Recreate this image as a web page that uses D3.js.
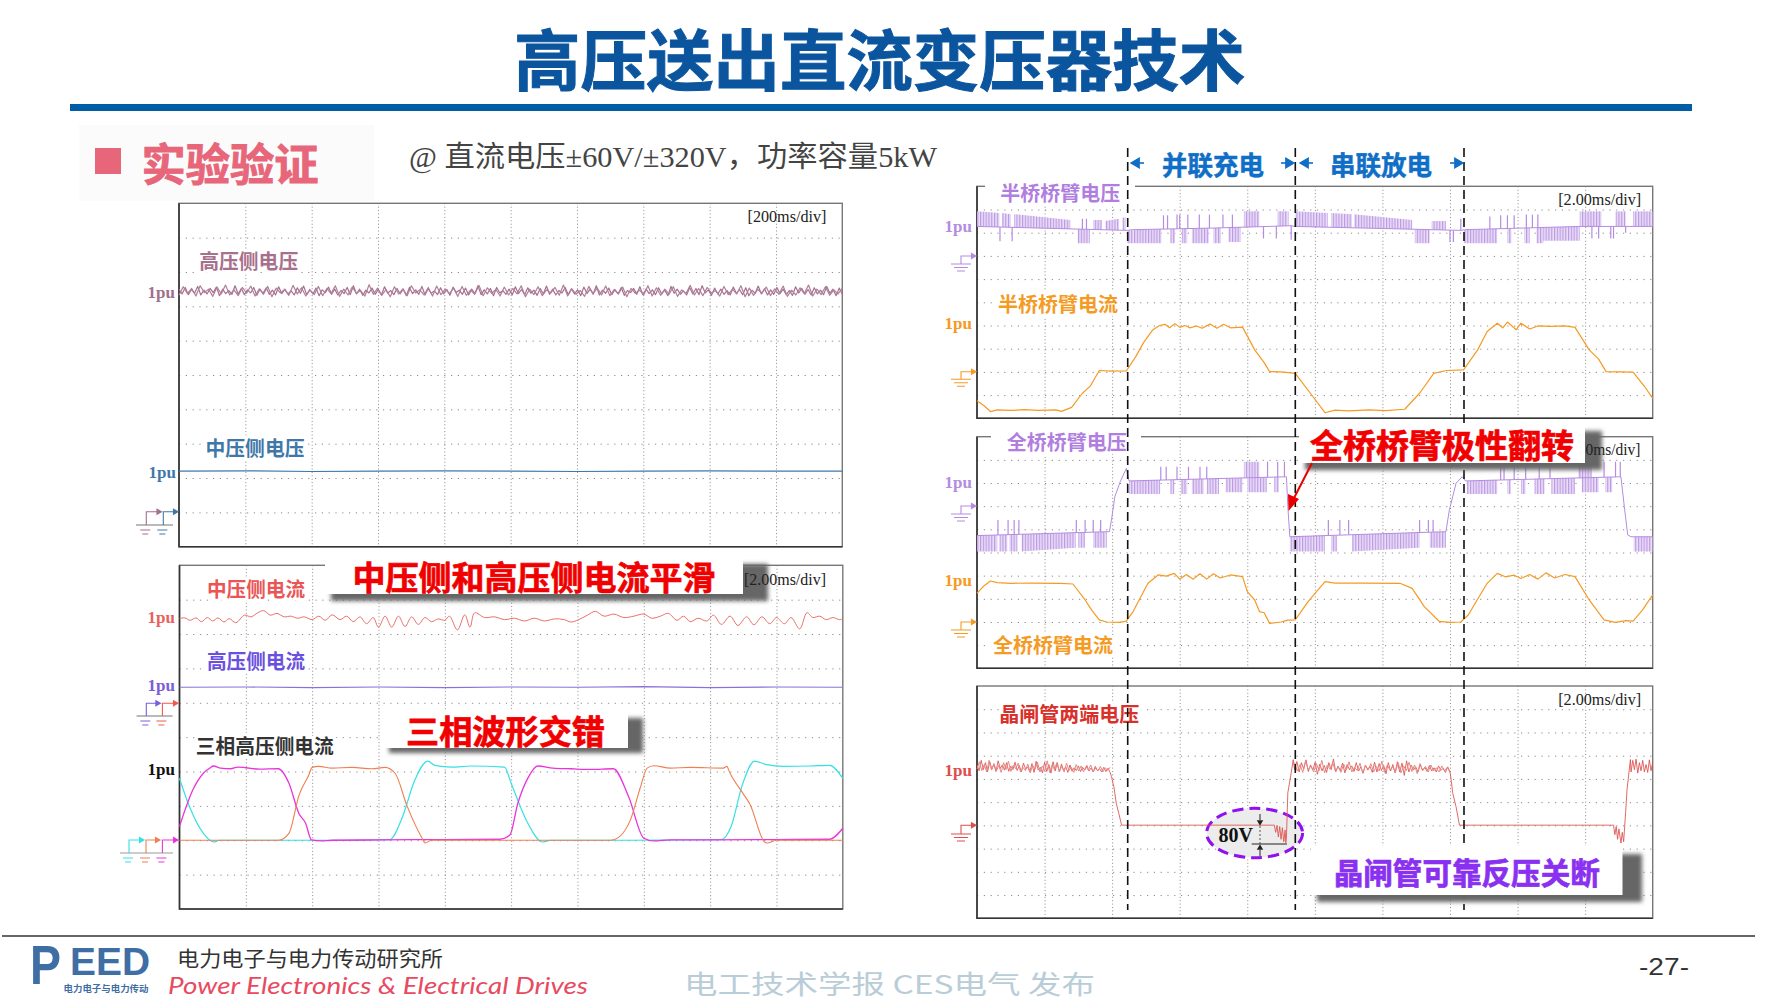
<!DOCTYPE html>
<html>
<head>
<meta charset="utf-8">
<script src="https://cdnjs.cloudflare.com/ajax/libs/d3/7.8.5/d3.min.js"></script>
<style>
  html, body { margin: 0; padding: 0; background: #fff; }
  svg { display: block; }
  .grid .domain { display: none; }
  .grid line { fill: none; }
  .trace { fill: none; stroke-linejoin: round; }
</style>
</head>
<body>
<svg id="chart" width="1778" height="1000"></svg>
<script>
// all traces are in scope divisions: x 0-10 left to right, y 0-10 bottom to top
const GRID_DIVS = [1, 2, 3, 4, 5, 6, 7, 8, 9];

const hvVoltage = [7.5,7.36,7.55,7.34,7.49,7.38,7.58,7.33,7.47,7.36,7.52,7.4,7.56,7.31,7.5,7.37,7.46,7.35,7.6,7.36,7.52,7.34,7.48,7.39,7.55,7.32,7.5,7.38,7.54,7.35,7.47,7.33,7.57,7.37,7.5,7.36,7.45,7.33,7.54,7.38,7.59,7.34,7.49,7.36,7.53,7.31,7.48,7.4,7.56,7.35,7.5,7.33,7.46,7.37,7.55,7.34,7.6,7.36,7.5,7.32,7.47,7.39,7.53,7.35,7.49,7.33,7.57,7.38,7.46,7.34,7.52,7.36,7.5,7.31,7.55,7.37,7.48,7.35,7.58,7.33,7.51,7.38,7.45,7.34,7.54,7.36,7.49,7.32,7.56,7.4,7.47,7.35,7.53,7.33,7.5,7.37,7.6,7.34,7.48,7.36,7.52,7.31,7.55,7.39,7.46,7.35,7.5,7.33,7.57,7.37,7.49,7.34,7.54,7.38,7.47,7.32,7.52,7.36,7.59,7.35,7.5,7.33,7.46,7.39,7.55,7.34,7.51,7.36,7.48,7.31,7.56,7.37,7.5,7.35,7.6,7.33,7.47,7.38,7.53,7.34,7.49,7.36,7.55,7.32,7.46,7.4,7.52,7.35,7.57,7.33,7.5,7.37,7.48,7.34,7.54,7.36,7.47,7.31,7.58,7.38,7.5,7.35,7.45,7.33,7.55,7.36,7.52,7.34,7.6,7.39,7.48,7.32,7.53,7.36,7.5,7.35,7.46,7.33,7.56,7.37,7.49,7.34,7.54,7.31,7.47,7.38,7.59,7.36,7.51,7.33,7.48,7.35,7.55,7.37,7.5,7.34,7.46,7.32,7.57,7.39,7.52,7.35,7.49,7.33,7.54,7.36,7.47,7.34,7.58,7.38,7.5,7.31,7.53,7.36];
const hvVoltagePass2 = [7.32,7.57,7.37,7.52,7.3,7.6,7.4,7.5,7.29,7.56,7.36,7.62,7.33,7.48,7.31,7.55,7.38,7.59,7.3,7.51,7.35,7.58,7.28,7.53,7.39,7.49,7.32,7.61,7.36,7.54,7.3,7.47,7.34,7.58,7.31,7.52,7.37,7.6,7.29,7.5,7.33,7.56,7.38,7.46,7.3,7.63,7.35,7.53,7.32,7.49,7.28,7.57,7.36,7.51,7.31,7.6,7.39,7.48,7.33,7.55,7.3,7.59,7.34,7.5,7.37,7.53,7.29,7.58,7.32,7.47,7.35,7.61,7.31,7.54,7.38,7.49,7.3,7.56,7.33,7.52,7.36,7.6,7.28,7.5,7.34,7.57,7.31,7.48,7.39,7.55,7.32,7.62,7.3,7.51,7.35,7.46,7.29,7.58,7.37,7.53,7.33,7.59,7.31,7.49,7.36,7.56,7.28,7.52,7.38,7.47,7.34,7.6,7.3,7.54,7.32,7.5,7.35,7.57,7.29,7.48,7.37,7.61,7.33,7.52,7.31,7.55,7.39,7.46,7.3,7.58,7.34,7.5,7.36,7.6,7.28,7.53,7.32,7.49,7.38,7.56,7.31,7.51,7.35,7.59,7.29,7.47,7.33,7.54,7.37,7.62,7.3,7.5,7.34,7.57,7.32,7.48,7.36,7.52];
const mvVoltage = [[0,2.2],[1,2.21],[2,2.19],[3,2.2],[4,2.21],[5,2.2],[6,2.19],[7,2.2],[8,2.21],[9,2.2],[10,2.2]];

const mvCurrent = [[0,8.45],[0.08,8.47],[0.16,8.4],[0.25,8.47],[0.33,8.36],[0.42,8.48],[0.5,8.38],[0.58,8.47],[0.67,8.35],[0.75,8.45],[0.85,8.33],[0.98,8.55],[1.08,8.5],[1.18,8.62],[1.27,8.68],[1.37,8.55],[1.47,8.6],[1.58,8.5],[1.68,8.52],[1.78,8.46],[1.88,8.5],[2,8.42],[2.1,8.52],[2.2,8.4],[2.3,8.56],[2.42,8.42],[2.52,8.52],[2.62,8.36],[2.72,8.5],[2.82,8.3],[2.92,8.48],[3,8.2],[3.1,8.52],[3.2,8.2],[3.3,8.52],[3.4,8.22],[3.5,8.5],[3.6,8.28],[3.7,8.48],[3.8,8.36],[3.9,8.44],[4,8.4],[4.07,8.52],[4.19,8.12],[4.3,8.56],[4.38,8.2],[4.45,8.62],[4.6,8.48],[4.75,8.5],[4.9,8.42],[5.05,8.46],[5.2,8.38],[5.35,8.46],[5.5,8.38],[5.65,8.44],[5.8,8.42],[5.9,8.35],[6.02,8.42],[6.15,8.55],[6.27,8.66],[6.4,8.52],[6.55,8.58],[6.7,8.48],[6.85,8.52],[7,8.58],[7.12,8.46],[7.25,8.52],[7.37,8.6],[7.5,8.4],[7.6,8.52],[7.7,8.36],[7.82,8.46],[7.95,8.38],[8.05,8.55],[8.17,8.28],[8.3,8.52],[8.42,8.25],[8.55,8.5],[8.66,8.27],[8.78,8.5],[8.9,8.3],[9,8.48],[9.12,8.3],[9.22,8.48],[9.35,8.15],[9.46,8.62],[9.55,8.48],[9.65,8.52],[9.75,8.42],[9.85,8.48],[9.95,8.42],[10,8.44]];
const hvCurrent = [[0,6.45],[1,6.46],[2,6.44],[3,6.46],[4,6.44],[5,6.46],[6,6.45],[7,6.47],[8,6.44],[9,6.46],[10,6.45]];

const phaseA = [[0,2.4],[0.2,3.46],[0.36,3.95],[0.46,4.1],[0.51,4.16],[0.62,4.1],[0.77,4.08],[0.88,4.13],[1,4.11],[1.2,4.07],[1.49,4.08],[1.65,3.66],[1.8,2.78],[1.9,2.5],[1.99,2.01],[2.14,1.98],[2.3,2],[3,2.01],[4,2.02],[4.83,2.03],[4.98,2.15],[5.1,3.07],[5.25,3.8],[5.4,4.16],[5.63,4.1],[5.9,4.08],[6.2,4.06],[6.54,4.08],[6.77,3.27],[7,2.06],[7.15,1.98],[7.4,2.01],[8,2.01],[9,2.02],[9.8,2.03],[10,2.35]];
const phaseB = [[0,2],[1,2],[1.49,2],[1.65,2.2],[1.8,3.3],[1.95,3.9],[2,4.12],[2.1,4.15],[2.3,4.1],[2.6,4.12],[2.9,4.08],[3.1,4.12],[3.25,3.95],[3.43,3.0],[3.66,2.05],[3.7,1.92],[3.8,2],[4.5,2],[5.5,2],[6.5,2],[6.63,2.1],[6.8,2.6],[6.95,3.55],[7.05,4.1],[7.15,4.17],[7.4,4.1],[7.7,4.12],[8.2,4.1],[8.25,4.15],[8.3,3.95],[8.5,3.35],[8.6,3.05],[8.82,1.95],[8.86,1.92],[9,2],[10,2]];
const phaseC = [[0,3.8],[0.15,2.98],[0.36,2.2],[0.52,1.95],[0.6,2],[1.5,2],[2.5,2],[3.17,2.02],[3.35,2.62],[3.55,3.76],[3.74,4.3],[3.85,4.18],[4.1,4.13],[4.4,4.16],[4.9,4.13],[5,3.66],[5.25,2.5],[5.47,1.95],[5.6,2],[6.5,2],[8.17,2.02],[8.32,2.42],[8.48,3.58],[8.67,4.3],[8.85,4.2],[9.1,4.15],[9.5,4.16],[9.8,4.18],[10,3.8]];

const halfVoltageBase = [[0,8.27],[2.22,8.1],[2.3,8.13],[3.5,8.2],[4.65,8.3],[4.71,8.27],[7.16,8.1],[7.23,8.13],[8.92,8.27],[10,8.27]];
const halfVoltageRuns = [[0,0.33,8.92,8.85],[0.37,0.5,8.85,8.8],[0.55,1.38,8.8,8.55],[1.72,1.85,8.55,8.55],[1.9,2.1,8.5,8.6],[2.15,2.2,8.65,8.65],[1.49,1.67,7.55,7.55],[2.22,2.73,7.55,7.55],[2.86,2.93,7.55,7.55],[3.03,3.11,7.55,7.55],[3.18,3.43,7.55,7.55],[3.5,3.61,7.55,7.55],[3.72,3.9,7.6,7.6],[3.95,4.18,8.92,8.92],[4.45,4.61,8.92,8.92],[4.71,5.19,8.92,8.85],[5.24,5.55,8.85,8.8],[5.58,6.44,8.8,8.55],[6.73,6.94,8.5,8.5],[6.48,6.7,7.55,7.55],[7.21,7.7,7.55,7.55],[7.85,7.91,7.55,7.55],[8.1,8.18,7.55,7.55],[8.28,8.38,7.55,7.55],[8.38,8.92,7.65,7.65],[8.92,9.24,8.92,8.92],[9.45,9.6,8.92,8.92],[9.71,10,8.92,8.92]];
const halfVoltageSpikes = [[0.34,7.63],[0.52,7.63],[1.56,8.6],[1.62,8.6],[2.76,8.75],[2.82,8.75],[2.96,8.78],[3,8.78],[3.12,8.78],[3.29,8.78],[3.44,8.78],[3.64,8.78],[3.78,8.78],[4.24,7.75],[4.43,7.75],[4.65,7.7],[7,7.6],[7.05,7.6],[7.16,8.6],[7.59,8.7],[7.75,8.75],[7.85,8.75],[7.95,8.75],[8.13,8.78],[8.22,8.78],[8.3,8.78],[9.1,7.75],[9.2,7.75],[9.38,7.75],[9.42,7.75],[9.6,8.0]];

const halfCurrent = [[0,0.76],[0.1,0.55],[0.2,0.29],[0.3,0.36],[0.5,0.34],[0.7,0.37],[0.9,0.34],[1.17,0.36],[1.25,0.3],[1.4,0.47],[1.56,1.08],[1.68,1.4],[1.81,2.06],[2,2.03],[2.21,2.04],[2.35,2.66],[2.46,3.24],[2.6,3.81],[2.7,4],[2.78,4.05],[2.85,3.9],[2.93,4.08],[3,3.92],[3.08,4],[3.15,3.9],[3.25,3.98],[3.33,3.88],[3.45,4.06],[3.55,3.88],[3.65,4.05],[3.75,3.9],[3.93,3.93],[4.11,2.95],[4.25,2.4],[4.33,2.01],[4.5,2],[4.71,1.94],[4.97,0.94],[5.15,0.24],[5.3,0.35],[5.5,0.32],[5.8,0.36],[6.05,0.33],[6.33,0.39],[6.55,1.08],[6.76,1.94],[6.95,2.06],[7.2,2.09],[7.41,2.95],[7.55,3.74],[7.7,4.1],[7.78,3.9],[7.85,4.15],[7.98,3.82],[8.05,4.1],[8.18,3.85],[8.3,3.98],[8.5,3.96],[8.7,3.98],[8.85,3.92],[9.06,2.95],[9.2,2.55],[9.31,2.01],[9.5,2],[9.71,1.99],[9.88,1.37],[10,0.86]];

const fullVoltageBase = [[0,5.73],[1.96,5.9],[1.99,6.4],[2.04,7.41],[2.12,8.06],[2.21,8.63],[2.25,8.09],[4.58,8.27],[4.6,6.98],[4.63,5.68],[6.94,5.9],[6.99,6.83],[7.09,7.99],[7.18,8.27],[7.23,8.09],[9.53,8.27],[9.58,6.98],[9.63,5.76],[9.68,5.68],[10,5.68]];
const fullVoltageRuns = [[0,0.3,5.04,5.04],[0.33,0.45,5.04,5.04],[0.48,0.6,5.04,5.04],[0.66,1.46,5.04,5.2],[1.5,1.6,5.2,5.2],[1.72,1.92,5.2,5.2],[2.25,2.71,7.53,7.53],[2.86,2.92,7.53,7.53],[3.02,3.11,7.53,7.53],[3.18,3.36,7.53,7.53],[3.4,3.58,7.53,7.53],[3.68,3.93,7.6,7.6],[4,4.29,7.6,7.6],[4.4,4.47,7.6,7.6],[3.95,4.18,8.92,8.92],[4.63,5.15,5.04,5.04],[5.24,5.33,5.04,5.04],[5.55,6.55,5.04,5.2],[6.7,6.94,5.2,5.2],[7.25,7.7,7.53,7.53],[7.85,7.9,7.53,7.53],[8.05,8.12,7.53,7.53],[8.25,8.4,7.53,7.53],[8.5,8.85,7.53,7.53],[8.95,9.2,7.6,7.6],[9.3,9.4,7.6,7.6],[8.9,9.1,8.92,8.92],[9.72,10,5.04,5.04]];
const fullVoltageSpikes = [[0.31,6.4],[0.46,6.4],[0.55,6.4],[0.62,6.4],[1.47,6.4],[1.6,6.4],[1.72,6.4],[1.83,6.4],[2.72,8.7],[2.8,8.7],[2.96,8.7],[3.13,8.7],[3.3,8.7],[3.4,8.7],[4.3,8.92],[4.45,8.92],[4.55,8.92],[5.2,6.4],[5.37,6.4],[5.5,6.4],[6.55,6.4],[6.68,6.4],[6.75,6.4],[7.75,8.7],[7.8,8.7],[7.95,8.7],[8.12,8.7],[8.32,8.7],[8.48,8.7],[9.28,8.92],[9.45,8.92],[9.52,8.92]];

const fullCurrent = [[0,3.24],[0.1,3.55],[0.2,3.77],[0.3,3.7],[0.5,3.67],[0.8,3.68],[1.24,3.67],[1.42,3.64],[1.6,2.95],[1.7,2.5],[1.81,2.09],[1.92,2],[2.1,1.98],[2.21,2.04],[2.31,2.45],[2.53,3.67],[2.68,4.03],[2.8,3.98],[2.92,4.1],[3,3.85],[3.1,4.05],[3.2,3.85],[3.3,4.08],[3.4,3.85],[3.5,4.08],[3.6,3.9],[3.75,4.03],[3.93,3.96],[4,3.31],[4.11,2.95],[4.18,2.45],[4.25,2.4],[4.33,1.94],[4.5,2],[4.6,2.08],[4.71,2.09],[4.9,2.88],[5.15,3.74],[5.3,3.68],[5.7,3.68],[6.26,3.67],[6.44,3.45],[6.62,2.66],[6.84,2.03],[7,1.98],[7.16,2],[7.27,2.3],[7.55,3.67],[7.7,4.1],[7.82,3.95],[7.95,4.02],[8.05,3.88],[8.18,4.05],[8.3,3.85],[8.42,4.12],[8.55,3.9],[8.7,4.05],[8.85,3.96],[9.06,2.95],[9.28,2.09],[9.45,1.98],[9.6,2.06],[9.71,2.04],[9.85,2.52],[10,3.17]];

const thyristorPlateauA = [6.6,6.35,6.8,6.4,6.7,6.3,6.75,6.42,6.62,6.32,6.78,6.45,6.6,6.38,6.7,6.33,6.55,6.4,6.72,6.36,6.58,6.3,6.68,6.42,6.52,6.3,6.66,6.28,6.76,6.38,6.5,6.26,6.72,6.32,6.62,6.25,6.74,6.34,6.7,6.3,6.64,6.36,6.52,6.28,6.6,6.33,6.48,6.36,6.56,6.32,6.5,6.38,6.58,6.34,6.47,6.3,6.54,6.36,6.44,6.3,6.5,6.32,6.46,6.28];
const thyristorPlateauA2 = [6.42,6.74,6.36,6.62,6.3,6.8,6.38,6.66,6.34,6.58,6.28,6.7,6.4,6.76,6.32,6.6,6.44,6.68,6.3,6.5,6.36,6.64,6.26,6.58,6.42,6.72,6.3,6.56,6.34,6.78,6.28,6.6,6.4,6.7,6.32,6.54,6.3,6.68,6.36,6.5,6.28,6.62,6.34,6.56,6.3,6.52,6.38,6.6,6.3,6.46,6.34,6.54,6.3,6.48,6.36,6.5];
const thyristorFallA = [[1.99,6.1],[2.03,5.6],[2.06,4.96],[2.1,4.5],[2.14,4.01],[3,4.01],[4.4,4.01],[4.42,3.7],[4.44,4],[4.46,3.5],[4.48,3.95],[4.5,3.4],[4.52,3.9],[4.54,3.3],[4.56,3.8],[4.57,3.25],[4.58,3.5],[4.6,5.4],[4.65,6.26],[4.68,6.83]];
const thyristorPlateauB = [6.4,6.75,6.3,6.7,6.42,6.82,6.32,6.6,6.38,6.72,6.2,6.64,6.35,6.58,6.28,6.7,6.4,6.86,6.3,6.55,6.36,6.68,6.26,6.62,6.4,6.56,6.32,6.7,6.34,6.52,6.25,6.6,6.38,6.54,6.28,6.72,6.3,6.66,6.36,6.58,6.22,6.7,6.34,6.62,6.26,6.74,6.3,6.68,6.15,6.78,6.3,6.6,6.38,6.52,6.3,6.62,6.36,6.5,6.32,6.58,6.34,6.48,6.3,6.56,6.36,6.46,6.28,6.52,6.3];
const thyristorPlateauB2 = [6.7,6.34,6.62,6.28,6.78,6.4,6.55,6.3,6.66,6.36,6.8,6.26,6.6,6.42,6.7,6.32,6.52,6.28,6.64,6.38,6.74,6.3,6.5,6.36,6.68,6.24,6.58,6.4,6.66,6.3,6.54,6.34,6.76,6.28,6.6,6.38,6.5,6.3,6.7,6.26,6.56,6.36,6.72,6.32,6.6,6.22,6.66,6.36,6.54,6.3,6.6,6.34,6.48,6.3,6.56,6.34,6.5,6.28];
const thyristorFallB = [[7.02,5.9],[7.04,5.4],[7.09,4.8],[7.14,4.01],[8,4.01],[9.42,4.01],[9.44,3.6],[9.46,3.95],[9.48,3.4],[9.5,3.85],[9.53,3.24],[9.55,3.7],[9.57,3.3],[9.6,4.6],[9.62,5.54],[9.67,6.83]];
const thyristorPlateauC = [6.3,6.8,6.4,6.85,6.25,6.7,6.35,6.8,6.3,6.62,6.28,6.82,6.35,6.72];

const svg = d3.select('#chart');
const FONT_CJK = '"Noto Sans CJK SC", "Noto Sans", sans-serif';
const FONT_SERIF = '"Liberation Serif", "Noto Sans CJK SC", serif';

const defs = svg.append('defs');
defs.append('filter').attr('id', 'soft')
    .attr('x', '-10%').attr('y', '-20%').attr('width', '120%').attr('height', '140%')
  .append('feGaussianBlur').attr('stdDeviation', 2);

const hatch = defs.append('pattern').attr('id', 'comb')
    .attr('patternUnits', 'userSpaceOnUse')
    .attr('width', 2.8).attr('height', 10);
hatch.append('rect').attr('width', 2.8).attr('height', 10).attr('fill', '#eadff7');
hatch.append('rect').attr('width', 1.2).attr('height', 10).attr('fill', '#bd9ae4');

function label(parent, x, y, str, opts = {}) {
  const t = parent.append('text')
    .attr('x', x)
    .attr('y', y)
    .attr('dominant-baseline', 'central')
    .attr('text-anchor', opts.anchor || 'middle')
    .attr('font-family', opts.family || FONT_CJK)
    .attr('font-size', opts.size || 20)
    .attr('font-weight', opts.weight || 'normal')
    .attr('fill', opts.color || '#333')
    .text(str);
  if (opts.style) t.attr('font-style', opts.style);
  if (opts.length) {
    t.attr('textLength', opts.length).attr('lengthAdjust', 'spacingAndGlyphs');
  }
  if (opts.halo) {
    t.attr('paint-order', 'stroke').attr('stroke', '#fff').attr('stroke-width', 6);
  }
  if (opts.heavy) {
    t.attr('stroke', opts.color).attr('stroke-width', opts.heavy);
  }
  return t;
}

function drawPanel(box) {
  const x = d3.scaleLinear().domain([0, 10]).range([box.left, box.right]);
  const y = d3.scaleLinear().domain([0, 10]).range([box.bottom, box.top]);
  const g = svg.append('g');

  g.append('g')
      .attr('class', 'grid')
      .attr('transform', `translate(0, ${box.top})`)
      .call(d3.axisBottom(x).tickValues(GRID_DIVS).tickSize(box.bottom - box.top).tickFormat(''))
    .selectAll('line')
      .attr('stroke', '#8a8a8a')
      .attr('stroke-width', 1)
      .attr('stroke-dasharray', '1 2.4');

  g.append('g')
      .attr('class', 'grid')
      .attr('transform', `translate(${box.left}, 0)`)
      .call(d3.axisRight(y).tickValues(GRID_DIVS).tickSize(box.right - box.left).tickFormat(''))
    .selectAll('line')
      .attr('stroke', '#8a8a8a')
      .attr('stroke-width', 1)
      .attr('stroke-dasharray', '1.2 5.6');

  g.append('rect')
    .attr('x', box.left)
    .attr('y', box.top)
    .attr('width', box.right - box.left)
    .attr('height', box.bottom - box.top)
    .attr('fill', 'none')
    .attr('stroke', '#777')
    .attr('stroke-width', 1.4);
  g.append('path')
    .attr('d', `M${box.left},${box.top}V${box.bottom}H${box.right}`)
    .attr('fill', 'none')
    .attr('stroke', '#333')
    .attr('stroke-width', 1.6);

  return {g, x, y};
}

function drawTrace(panel, points, color, width = 1.1, opacity = 1, curve = d3.curveLinear) {
  const line = d3.line()
    .x(d => panel.x(d[0]))
    .y(d => panel.y(d[1]))
    .curve(curve);
  panel.g.append('path')
    .attr('class', 'trace')
    .attr('d', line(points))
    .attr('stroke', color)
    .attr('stroke-width', width)
    .attr('stroke-opacity', opacity);
}

// y-only samples spread evenly between two x positions
function spread(values, x0, x1) {
  const index = d3.scaleLinear().domain([0, values.length - 1]).range([x0, x1]);
  return values.map((v, i) => [index(i), v]);
}

function drawSwitching(panel, base, runs, spikes, color) {
  const baseAt = d3.scaleLinear().domain(base.map(d => d[0])).range(base.map(d => d[1]));
  const area = d3.area()
    .x(d => panel.x(d[0]))
    .y0(d => panel.y(baseAt(d[0])))
    .y1(d => panel.y(d[1]));

  panel.g.selectAll(null)
    .data(runs)
    .enter().append('path')
      .attr('d', d => area([[d[0], d[2]], [d[1], d[3]]]))
      .attr('fill', 'url(#comb)');

  panel.g.selectAll(null)
    .data(spikes)
    .enter().append('line')
      .attr('x1', d => panel.x(d[0]))
      .attr('x2', d => panel.x(d[0]))
      .attr('y1', d => panel.y(baseAt(d[0])))
      .attr('y2', d => panel.y(d[1]))
      .attr('stroke', color)
      .attr('stroke-width', 1.2);

  drawTrace(panel, base, color, 1);
}

function triangle(parent, x, y, size, rotate, color) {
  parent.append('path')
    .attr('d', d3.symbol(d3.symbolTriangle, size)())
    .attr('transform', `translate(${x}, ${y}) rotate(${rotate})`)
    .attr('fill', color);
}

// probe marker of the scope: step line ending in an arrow
function probeStep(x0, x1, y, yBase, color) {
  svg.append('path')
    .attr('d', `M${x0},${yBase}V${y}H${x1 - 4}`)
    .attr('fill', 'none')
    .attr('stroke', color)
    .attr('stroke-width', 1.1);
  triangle(svg, x1 - 3, y, 22, 90, color);
  svg.append('path')
    .attr('d', `M${x0 - 6},${yBase + 5}h10M${x0 - 4},${yBase + 9}h6`)
    .attr('fill', 'none')
    .attr('stroke', color)
    .attr('stroke-width', 1);
}

function groundRule(x0, x1, y, color) {
  svg.append('line')
    .attr('x1', x0).attr('x2', x1)
    .attr('y1', y).attr('y2', y)
    .attr('stroke', color)
    .attr('stroke-width', 1.1);
}

function groundMark(x, y, yBase, color) {
  svg.append('path')
    .attr('d', `M${x},${yBase}V${y}H${x + 11}M${x - 10},${yBase}h20M${x - 7},${yBase + 3.5}h14M${x - 4},${yBase + 7}h8`)
    .attr('fill', 'none')
    .attr('stroke', color)
    .attr('stroke-width', 1.1);
  triangle(svg, x + 12, y, 22, 90, color);
}

function calloutBox(x0, x1, y0, y1, sx, sy, text, size, width, color) {
  svg.append('rect')
    .attr('x', x0 + 6).attr('y', y0 + 8)
    .attr('width', sx - x0 - 6).attr('height', sy - y0 - 8)
    .attr('fill', '#666')
    .attr('filter', 'url(#soft)');
  svg.append('rect')
    .attr('x', x0).attr('y', y0)
    .attr('width', x1 - x0).attr('height', y1 - y0)
    .attr('fill', '#fff');
  label(svg, (x0 + x1) / 2, (y0 + y1) / 2 + 0.5, text, {size, color, weight: 700, length: width, heavy: 0.7});
}

// header
label(svg, 879.6, 56, '高压送出直流变压器技术', {size: 66, weight: 700, color: '#0b559f', length: 731, heavy: 1});
svg.append('rect').attr('x', 70).attr('y', 104).attr('width', 1622).attr('height', 7).attr('fill', '#005ea6');
svg.append('rect').attr('x', 79).attr('y', 125).attr('width', 295).attr('height', 76).attr('fill', '#fbfbfb');
svg.append('rect').attr('x', 95).attr('y', 148).attr('width', 26).attr('height', 26).attr('fill', '#e8667a');
label(svg, 230, 162, '实验验证', {size: 44, weight: 700, color: '#e8667a', length: 177, heavy: 0.9});
label(svg, 409, 157, '@ 直流电压±60V/±320V，功率容量5kW', {size: 29, anchor: 'start', family: FONT_SERIF, color: '#444', length: 528});

// left column
const panelA = drawPanel({left: 179, right: 842.3, top: 203.3, bottom: 546.7});
drawTrace(panelA, spread(hvVoltage, 0, 10), '#a5708e', 1.2);
drawTrace(panelA, spread(hvVoltagePass2, 0, 10), '#b07f9a', 1.2);
drawTrace(panelA, mvVoltage, '#3f78a8', 1.2);
label(panelA.g, 248.7, 260, '高压侧电压', {size: 20, weight: 700, color: '#a8708c', length: 99, halo: true});
label(panelA.g, 255, 447, '中压侧电压', {size: 20, weight: 700, color: '#3f78a8', length: 99, halo: true});
label(panelA.g, 787, 216.7, '[200ms/div]', {family: FONT_SERIF, size: 17, color: '#222', length: 79});
label(svg, 175, 292, '1pu', {family: FONT_SERIF, size: 17, weight: 700, anchor: 'end', color: '#a0708c'});
label(svg, 176, 472, '1pu', {family: FONT_SERIF, size: 17, weight: 700, anchor: 'end', color: '#3f78a8'});
groundRule(136, 173, 525, '#777');
probeStep(146.3, 161.5, 511.7, 525, '#a0708c');
probeStep(163.3, 178, 511.7, 525, '#3f78a8');

const panelB = drawPanel({left: 179.5, right: 842.8, top: 565.3, bottom: 909});
drawTrace(panelB, mvCurrent, '#e8706a', 1, 1, d3.curveCatmullRom);
drawTrace(panelB, hvCurrent, '#8a70d8', 1.1);
drawTrace(panelB, phaseC, '#35e0e6', 1.2, 1, d3.curveMonotoneX);
drawTrace(panelB, phaseA, '#ea34da', 1.3, 1, d3.curveMonotoneX);
drawTrace(panelB, phaseB, '#ef7f52', 1.1, 1, d3.curveMonotoneX);
label(panelB.g, 256, 588, '中压侧电流', {size: 20, weight: 700, color: '#ea5555', length: 98, halo: true});
label(panelB.g, 256, 660.7, '高压侧电流', {size: 20, weight: 700, color: '#6a50e0', length: 98, halo: true});
label(panelB.g, 264.8, 745.7, '三相高压侧电流', {size: 20, weight: 700, color: '#333', length: 138, halo: true});
label(svg, 175, 617, '1pu', {family: FONT_SERIF, size: 17, weight: 700, anchor: 'end', color: '#e8625e'});
label(svg, 175, 685, '1pu', {family: FONT_SERIF, size: 17, weight: 700, anchor: 'end', color: '#7a60d8'});
label(svg, 175, 769, '1pu', {family: FONT_SERIF, size: 17, weight: 700, anchor: 'end', color: '#111'});
groundRule(136.5, 172.6, 716, '#777');
probeStep(146.3, 160.4, 703.3, 716, '#7a60d8');
probeStep(162.4, 178, 703.3, 716, '#ef5a4e');
groundRule(120, 173, 853, '#999');
probeStep(129, 144, 840, 853, '#35e0e6');
probeStep(146, 160, 840, 853, '#ef7f52');
probeStep(162.4, 178, 840, 853, '#ea34da');

// right column
const RIGHT = {left: 977, right: 1652.7};
const panelC = drawPanel({...RIGHT, top: 186.3, bottom: 418.3});
drawSwitching(panelC, halfVoltageBase, halfVoltageRuns, halfVoltageSpikes, '#b48ce0');
drawTrace(panelC, halfCurrent, '#f59a23', 1.2);
panelC.g.append('rect').attr('x', 985).attr('y', 183).attr('width', 150).attr('height', 8).attr('fill', '#fff');
label(panelC.g, 1060.3, 192.7, '半桥桥臂电压', {size: 20, weight: 700, color: '#b07ee0', length: 120, halo: true});
label(panelC.g, 1058, 303.3, '半桥桥臂电流', {size: 20, weight: 700, color: '#f59a23', length: 120, halo: true});
label(panelC.g, 1599.7, 199, '[2.00ms/div]', {family: FONT_SERIF, size: 17, color: '#222', length: 83});
label(svg, 972, 226.7, '1pu', {family: FONT_SERIF, size: 17, weight: 700, anchor: 'end', color: '#b48ce0'});
label(svg, 972, 323, '1pu', {family: FONT_SERIF, size: 17, weight: 700, anchor: 'end', color: '#f59a23'});
groundMark(961, 256, 264, '#b48ce0');
groundMark(961, 371.7, 379.3, '#f59a23');

const panelD = drawPanel({...RIGHT, top: 436.7, bottom: 668.3});
drawSwitching(panelD, fullVoltageBase, fullVoltageRuns, fullVoltageSpikes, '#b48ce0');
drawTrace(panelD, fullCurrent, '#f59a23', 1.2);
panelD.g.append('rect').attr('x', 991).attr('y', 433).attr('width', 150).attr('height', 8).attr('fill', '#fff');
label(panelD.g, 1066.8, 441.7, '全桥桥臂电压', {size: 20, weight: 700, color: '#b07ee0', length: 120, halo: true});
label(panelD.g, 1053, 644, '全桥桥臂电流', {size: 20, weight: 700, color: '#f59a23', length: 120, halo: true});
label(svg, 972, 482, '1pu', {family: FONT_SERIF, size: 17, weight: 700, anchor: 'end', color: '#b48ce0'});
label(svg, 972, 580, '1pu', {family: FONT_SERIF, size: 17, weight: 700, anchor: 'end', color: '#f59a23'});
groundMark(961, 506, 514, '#b48ce0');
groundMark(961, 622, 630, '#f59a23');

const panelE = drawPanel({...RIGHT, top: 686, bottom: 918.3});
// ellipse sits under the thyristor trace
panelE.g.append('ellipse')
  .attr('cx', 1254.6).attr('cy', 833)
  .attr('rx', 48).attr('ry', 24.7)
  .attr('fill', '#ececec')
  .attr('stroke', '#9010f0')
  .attr('stroke-width', 3)
  .attr('stroke-dasharray', '11 6');
drawTrace(panelE, [
  ...spread(thyristorPlateauA, 0, 1.97),
  ...thyristorFallA,
  ...spread(thyristorPlateauB, 4.7, 7),
  ...thyristorFallB,
  ...spread(thyristorPlateauC, 9.68, 10)
], '#dc4f4c', 1, 0.85);
drawTrace(panelE, spread(thyristorPlateauA2, 0, 1.97), '#e58a86', 1);
drawTrace(panelE, spread(thyristorPlateauB2, 4.7, 7), '#e58a86', 1);
label(panelE.g, 1069.3, 713.3, '晶闸管两端电压', {size: 20, weight: 700, color: '#d8302a', length: 140, halo: true});
label(panelE.g, 1599.7, 699, '[2.00ms/div]', {family: FONT_SERIF, size: 17, color: '#222', length: 83});
label(svg, 972, 770, '1pu', {family: FONT_SERIF, size: 17, weight: 700, anchor: 'end', color: '#dc4f4c'});
groundMark(961, 825.3, 834, '#dc4f4c');

// 80V annotation
label(svg, 1235.7, 835, '80V', {family: FONT_SERIF, size: 20, weight: 700, color: '#111'});
svg.append('path')
  .attr('d', 'M1251.7,844H1287M1260,814V820M1260,856V850')
  .attr('fill', 'none')
  .attr('stroke', '#222')
  .attr('stroke-width', 1);
svg.append('line')
  .attr('x1', 1260).attr('x2', 1260)
  .attr('y1', 826).attr('y2', 844)
  .attr('stroke', '#555')
  .attr('stroke-width', 1)
  .attr('stroke-dasharray', '2 2');
triangle(svg, 1260, 822, 18, 180, '#222');
triangle(svg, 1260, 848, 18, 0, '#222');

// switching instants across the three right-hand panels
const DASH_X = [1127.7, 1295.3, 1464];
svg.selectAll(null)
  .data(DASH_X)
  .enter().append('line')
    .attr('x1', d => d)
    .attr('x2', d => d)
    .attr('y1', 148)
    .attr('y2', 910)
    .attr('stroke', '#111')
    .attr('stroke-width', 1.6)
    .attr('stroke-dasharray', '9 5');

// phase titles with arrows
label(svg, 1213, 163, '并联充电', {size: 26, weight: 700, color: '#0f6fc6', length: 102, heavy: 0.5});
label(svg, 1381, 163, '串联放电', {size: 26, weight: 700, color: '#0f6fc6', length: 102, heavy: 0.5});
[[1130, 1], [1295, -1], [1299, 1], [1464, -1]].forEach(([tip, dir]) => {
  triangle(svg, tip + dir * 6.5, 163, 60, dir > 0 ? -90 : 90, '#0f6fc6');
  svg.append('line')
    .attr('x1', tip + dir * 6).attr('x2', tip + dir * 14)
    .attr('y1', 163).attr('y2', 163)
    .attr('stroke', '#0f6fc6')
    .attr('stroke-width', 1.6);
});

// callouts
calloutBox(325, 743, 556, 594, 768, 601, '中压侧和高压侧电流平滑', 33, 363, '#f00000');
calloutBox(383, 628, 710, 748, 643, 753, '三相波形交错', 33, 199, '#f00000');
calloutBox(1299, 1585, 423, 463, 1602, 470, '全桥桥臂极性翻转', 33, 264, '#f00000');
calloutBox(1311, 1622.5, 846, 895, 1642, 902, '晶闸管可靠反压关断', 30, 266, '#8a30f0');

// time-base tags that sit on top of the callout shadows
label(svg, 785, 579, '[2.00ms/div]', {family: FONT_SERIF, size: 17, color: '#222', length: 82});
label(svg, 1585.5, 449, '0ms/div]', {family: FONT_SERIF, size: 17, anchor: 'start', color: '#222', length: 55});

svg.append('line')
  .attr('x1', 1312).attr('y1', 463)
  .attr('x2', 1293).attr('y2', 500)
  .attr('stroke', '#e80000')
  .attr('stroke-width', 2);
svg.append('path')
  .attr('d', 'M1288.5,511L1288,494L1299,499Z')
  .attr('fill', '#e80000');

// footer
svg.append('line')
  .attr('x1', 2).attr('x2', 1755)
  .attr('y1', 936).attr('y2', 936)
  .attr('stroke', '#666')
  .attr('stroke-width', 2);
label(svg, 30, 964, 'P', {family: '"Liberation Sans", sans-serif', size: 56, weight: 700, anchor: 'start', color: '#3f6ea5', length: 31});
label(svg, 70, 962, 'EED', {family: '"Liberation Sans", sans-serif', size: 38, weight: 700, anchor: 'start', color: '#3f6ea5', length: 80});
label(svg, 106, 988, '电力电子与电力传动', {size: 9, weight: 700, color: '#3f6ea5', length: 85});
label(svg, 177, 957, '电力电子与电力传动研究所', {size: 21, anchor: 'start', color: '#333', length: 266});
label(svg, 168, 984, 'Power Electronics & Electrical Drives', {family: '"Lato", sans-serif', size: 24, style: 'italic', anchor: 'start', color: '#e84a5f', length: 420});
label(svg, 684, 982, '电工技术学报 CES电气 发布', {size: 26, anchor: 'start', color: '#b9cdd8', length: 411});
label(svg, 1664, 966, '-27-', {family: '"Liberation Sans", sans-serif', size: 24, color: '#333', length: 50});
</script>
</body>
</html>
